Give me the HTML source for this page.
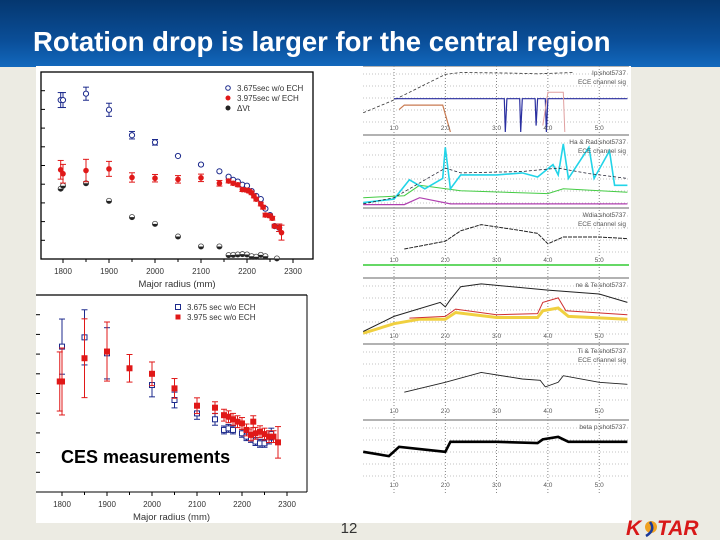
<!DOCTYPE html>
<html><head><meta charset="utf-8">
<style>
html,body{margin:0;padding:0;width:720px;height:540px;overflow:hidden;background:#ecebe3;font-family:"Liberation Sans",sans-serif}
#hdr{position:absolute;left:0;top:0;width:720px;height:67px;background:linear-gradient(#05376f,#0a4e98 60%,#1268bd)}
#title{position:absolute;left:33px;top:26px;color:#fff;font-weight:bold;font-size:27.5px;letter-spacing:0px;white-space:nowrap}
svg{position:absolute;left:0;top:0}
</style></head><body>
<div id="hdr"></div>
<div id="title">Rotation drop is larger for the central region</div>
<svg id="s" width="720" height="540"></svg>
<script>
// ---- Top-left chart data (toroidal rotation, arb. units) ----
const topBlueR=[1795,1800,1850,1900,1950,2000,2050,2100,2140,2160,2170,2180,2190,2200,2210,2220,2230,2240,2250,2260,2270];
const topBlueV=[85,85,88.4,79.8,66.2,62.4,55.1,50.5,46.9,44,42.3,41.4,39.7,39.2,36.3,33.7,32,26.9,23.5,17.6,16.7];
const topBlueErr=[4,4,3.5,3.5,2,1.5,0,0,0,0,0,0,0,0,0,0,0,0,0,0,2];
const topRedR=[1795,1800,1850,1900,1950,2000,2050,2100,2140,2160,2170,2180,2190,2200,2205,2210,2215,2220,2230,2235,2240,2250,2255,2260,2270,2275];
const topRedV=[47.7,45.6,47.3,48.2,43.6,43.2,42.6,43.4,40.5,41.7,40.5,39.7,37.1,36.8,36.3,35.4,33.7,32,29.4,27.7,23.5,23.1,21.8,17.6,16.7,14.1];
const topRedErr=[5,5,6,4,2.5,2,2,2,1.5,1,1,1,1,1,1,1,1,1,1,1,1,1,1,1,2,4];
const topBlackR=[1795,1800,1850,1900,1950,2000,2050,2100,2140,2160,2170,2180,2190,2200,2210,2220,2230,2240,2265];
const topBlackV=[37.6,39.2,40.5,31.1,22.4,18.8,12,6.7,6.7,2.1,2.2,2.4,2.6,2.4,1.5,1.2,2.2,1.5,0.3];
// ---- Bottom-left chart data ----
const botBlueR=[1800,1850,1900,2000,2050,2100,2140,2160,2170,2180,2200,2210,2220,2230,2240,2250,2260,2265];
const botBlueV=[73.8,78.5,70.4,54.3,46.7,39.9,36.9,31.5,32.3,31.5,29.8,28.1,27.2,25.6,24.7,24.7,26.4,29.4];
const botBlueErr=[14,14,13,6,4,3,3,2,2,2,2,2,2,2,2,2,2,3];
const botRedR=[1795,1800,1850,1900,1950,2000,2050,2100,2140,2160,2170,2180,2190,2200,2210,2220,2225,2230,2240,2250,2260,2270,2280];
const botRedV=[56.1,56.1,67.9,71.3,62.8,60,52.6,43.8,42.8,39,38.2,36.9,35.7,34.8,31.5,29,35.7,29.8,30.6,29.4,28.1,28.1,25.2];
const botRedErr=[15,17,20,15,7,6,5,4,3,3,3,3,3,3,3,3,3,3,3,3,3,3,8];
const xTicks=[1800,1900,2000,2100,2200,2300];
// ---- Right panel time traces [t, level within panel 0..1 from bottom] ----
const p1Black=[[0.4,0.3],[1.0,0.5],[2.0,0.9],[2.3,0.93],[3.3,0.92],[3.8,0.91],[4.5,0.93]];
const p1Blue=[[1.0,0.52],[3.15,0.52],[3.17,0.0],[3.2,0.52],[3.45,0.52],[3.47,0.0],[3.5,0.52],[3.75,0.52],[3.77,0.1],[3.8,0.52],[3.95,0.52],[3.97,0.0],[4.0,0.52],[5.55,0.52]];
const p1Orange=[[1.1,0.35],[1.2,0.42],[1.95,0.42],[2.1,0.0]];
const p1Pink=[[3.9,0.1],[4.0,0.62],[4.3,0.62],[4.33,0.0]];
const p2Cyan=[[0.4,0.05],[1.0,0.1],[1.3,0.38],[1.6,0.25],[1.95,0.4],[2.0,0.85],[2.1,0.25],[2.3,0.45],[3.0,0.45],[3.5,0.48],[3.8,0.42],[4.1,0.6],[4.2,0.45],[4.3,0.9],[4.4,0.4],[4.8,0.85],[4.9,0.4],[5.2,0.8],[5.3,0.3],[5.55,0.3]];
const p2Navy=[[0.4,0.03],[1.0,0.12],[2.0,0.55],[2.3,0.48],[3.5,0.5],[4.2,0.55],[4.8,0.47],[5.55,0.4]];
const p2Green=[[0.4,0.12],[1.2,0.15],[1.5,0.3],[2.3,0.22],[4.0,0.18],[4.3,0.25],[5.55,0.2]];
const p2Mag=[[0.4,0.02],[1.2,0.02],[1.5,0.12],[2.1,0.03],[5.55,0.03]];
const p3Black=[[1.2,0.25],[2.0,0.4],[2.3,0.6],[2.7,0.72],[3.5,0.6],[3.8,0.55],[4.0,0.35],[4.3,0.48],[5.0,0.48],[5.55,0.45]];
const p4Black=[[0.4,0.08],[1.0,0.35],[1.9,0.6],[2.0,0.52],[2.1,0.65],[2.3,0.88],[2.7,0.93],[4.0,0.82],[5.0,0.75],[5.55,0.6]];
const p4Yel=[[0.4,0.05],[1.0,0.22],[1.5,0.3],[2.0,0.3],[2.2,0.42],[3.0,0.33],[3.8,0.33],[3.9,0.45],[4.2,0.5],[4.4,0.35],[5.55,0.3]];
const p4Red=[[1.3,0.32],[2.0,0.35],[2.2,0.48],[3.0,0.38],[3.8,0.4],[3.9,0.6],[4.2,0.68],[4.35,0.45],[5.55,0.38]];
const p5Black=[[1.2,0.3],[2.0,0.45],[2.7,0.6],[3.5,0.5],[3.85,0.48],[3.95,0.38],[4.2,0.45],[4.3,0.55],[5.0,0.45],[5.55,0.42]];
const p6Black=[[0.4,0.52],[0.9,0.45],[1.1,0.6],[2.0,0.52],[2.1,0.68],[3.0,0.68],[3.8,0.66],[3.9,0.72],[4.2,0.76],[4.4,0.68],[5.55,0.68]];
const tLabels=["1.0","2.0","3.0","4.0","5.0"];

const S=document.getElementById('s');
const NS='http://www.w3.org/2000/svg';
function mk(tag,at,par){const e=document.createElementNS(NS,tag);for(const k in at)e.setAttribute(k,at[k]);(par||S).appendChild(e);return e;}
function txt(x,y,s,at,par){const e=mk('text',Object.assign({x:x,y:y},at),par);e.textContent=s;return e;}

const wp=mk('rect',{x:36,y:66,width:595,height:457,fill:'#fff'});



function chart(name,box,ymax,series,legend){
  const g=mk('g',{});
  
  
  const xs=r=>box.x0+(r-1800)*box.k;
  const ys=v=>box.yb-v/ymax*(box.yb-box.yt);
  if(box.frame) mk('rect',{x:box.fx,y:box.yt,width:box.fw,height:box.yb-box.yt,fill:'none',stroke:'#000','stroke-width':1.3},g);
  else { mk('line',{x1:box.fx,y1:box.yt,x2:box.fx+box.fw,y2:box.yt,stroke:'#000','stroke-width':1.3},g);
         mk('line',{x1:box.fx+box.fw,y1:box.yt,x2:box.fx+box.fw,y2:box.yb,stroke:'#000','stroke-width':1},g);
         mk('line',{x1:box.fx,y1:box.yb,x2:box.fx+box.fw,y2:box.yb,stroke:'#000','stroke-width':1},g);}
  for(let i=0;i<xTicks.length;i++){const x=xs(xTicks[i]);
    mk('line',{x1:x,y1:box.yb,x2:x,y2:box.yb+4,stroke:'#000'},g);
    const tl=txt(x,box.yb+15,String(xTicks[i]),{'font-size':8,'text-anchor':'middle',fill:'#333'},g);
    
    }
  for(let i=0;i<5;i++){const x=xs(1850+i*100);mk('line',{x1:x,y1:box.yb,x2:x,y2:box.yb+3,stroke:'#000'},g);}
  for(let v=10;v<ymax;v+=10){mk('line',{x1:box.fx,y1:ys(v),x2:box.fx+4,y2:ys(v),stroke:'#000'},g);}
  const xt=txt((box.fx+box.fx+box.fw)/2,box.yb+28,'Major radius (mm)',{'font-size':9.5,'text-anchor':'middle',fill:'#333'},g);
  
  
  series.forEach(s=>{
    const sg=mk('g',{},g);
    
    
    for(let i=0;i<s.R.length;i++){const x=xs(s.R[i]),y=ys(s.V[i]);
      if(s.E&&s.E[i]>0){const e=s.E[i];
        mk('line',{x1:x,y1:ys(s.V[i]-e),x2:x,y2:ys(s.V[i]+e),stroke:s.c,'stroke-width':1},sg);
        mk('line',{x1:x-3,y1:ys(s.V[i]-e),x2:x+3,y2:ys(s.V[i]-e),stroke:s.c},sg);
        mk('line',{x1:x-3,y1:ys(s.V[i]+e),x2:x+3,y2:ys(s.V[i]+e),stroke:s.c},sg);}
      if(s.m==='oc') mk('circle',{cx:x,cy:y,r:2.6,fill:'#fff',stroke:s.c,'stroke-width':1},sg);
      else if(s.m==='fc') mk('circle',{cx:x,cy:y,r:2.8,fill:s.c},sg);
      else if(s.m==='os') mk('rect',{x:x-2.5,y:y-2.5,width:5,height:5,fill:'#fff',stroke:s.c,'stroke-width':1},sg);
      else if(s.m==='fs') mk('rect',{x:x-3,y:y-3,width:6,height:6,fill:s.c},sg);
      else if(s.m==='bc'){mk('circle',{cx:x,cy:y,r:2.6,fill:'#fff',stroke:'#444','stroke-width':0.8},sg);mk('path',{d:`M${x-2.6},${y} A2.6,2.6 0 0 0 ${x+2.6},${y} Z`,fill:'#222'},sg);}
    }
  });
  legend.forEach((l,i)=>{const lx=box.lx,ly=box.ly+i*10;
    const lg=mk('g',{},g);
    
    
    if(l.m==='oc') mk('circle',{cx:lx,cy:ly-3,r:2.3,fill:'#fff',stroke:l.c},lg);
    if(l.m==='fc') mk('circle',{cx:lx,cy:ly-3,r:2.5,fill:l.c},lg);
    if(l.m==='bc') mk('circle',{cx:lx,cy:ly-3,r:2.5,fill:'#222'},lg);
    if(l.m==='os') mk('rect',{x:lx-2.5,y:ly-5.5,width:5,height:5,fill:'#fff',stroke:l.c},lg);
    if(l.m==='fs') mk('rect',{x:lx-2.5,y:ly-5.5,width:5,height:5,fill:l.c},lg);
    txt(lx+9,ly,l.t,{'font-size':8,fill:'#333'},lg);});
  return g;
}
chart('rotation-chart-top',{x0:63,k:0.46,yt:72,yb:259,fx:41,fw:272,frame:true,lx:228,ly:91},100,[
 {name:'series-wo-ech',R:topBlueR,V:topBlueV,E:topBlueErr,c:'#1c2a8c',m:'oc'},
 {name:'series-delta-vt',R:topBlackR,V:topBlackV,c:'#222',m:'bc'},
 {name:'series-w-ech',R:topRedR,V:topRedV,E:topRedErr,c:'#e01818',m:'fc'}],
 [{m:'oc',c:'#1c2a8c',t:'3.675sec w/o ECH'},{m:'fc',c:'#e01818',t:'3.975sec w/ ECH'},{m:'bc',t:'ΔVt'}]);
chart('rotation-chart-bottom',{x0:62,k:0.45,yt:295,yb:492,fx:36,fw:271,frame:false,lx:178,ly:310},100,[
 {name:'series-3675',R:botBlueR,V:botBlueV,E:botBlueErr,c:'#1c2a8c',m:'os'},
 {name:'series-3975',R:botRedR,V:botRedV,E:botRedErr,c:'#e01818',m:'fs'}],
 [{m:'os',c:'#1c2a8c',t:'3.675 sec w/o ECH'},{m:'fs',c:'#e01818',t:'3.975 sec w/o ECH'}]);
const ces=txt(61,463,'CES measurements',{'font-size':18,'font-weight':'bold',fill:'#000'});



// ---- Right panel ----
const defs=mk('defs',{});
const cp=mk('clipPath',{id:'rc'},defs);
mk('rect',{x:363,y:66,width:266,height:432},cp);
const rp=mk('g',{'clip-path':'url(#rc)'});


const tx=t=>394+(t-1)*51.3;
const panels=[
 {top:68,bot:132,lab:130,name:'panel-ip',tr:[[p1Black,'#333',0.8,'3,2'],[p1Blue,'#2a2fa0',1.2],[p1Orange,'#c87a50',1.2],[p1Pink,'#e0a0a0',1]],legs:['Ip:shot5737','ECE channel sig']},
 {top:137,bot:206,lab:null,name:'panel-ha',tr:[[p2Green,'#4c4',1],[p2Mag,'#b040b0',1.2],[p2Cyan,'#22d4e8',1.6],[p2Navy,'#223',0.8,'3,2']],legs:['Ha & Rad:shot5737','ECE channel sig']},
 {top:210,bot:262,lab:262,name:'panel-wdia',tr:[[p3Black,'#222',1,'4,1']],legs:['Wdia:shot5737','ECE channel sig']},
 {top:280,bot:336,lab:338,name:'panel-ne',tr:[[p4Yel,'#f0d040',3],[p4Red,'#d03030',1],[p4Black,'#222',1]],legs:['ne & Te:shot5737']},
 {top:346,bot:412,lab:413,name:'panel-te',tr:[[p5Black,'#222',0.9]],legs:['Ti & Te:shot5737','ECE channel sig']},
 {top:422,bot:484,lab:487,name:'panel-beta',tr:[[p6Black,'#000',2.6]],legs:['beta p:shot5737']}];
[1,2,3,4,5].forEach(t=>mk('line',{x1:tx(t),y1:66,x2:tx(t),y2:495,stroke:'#666','stroke-width':0.8,'stroke-dasharray':'1,2'},rp));
panels.forEach(p=>{
  const g=mk('g',{},rp);
  
  
  for(let y=p.top+6;y<p.bot;y+=12) mk('line',{x1:363,y1:y,x2:628,y2:y,stroke:'#888','stroke-width':0.6,'stroke-dasharray':'1,2'},g);
  mk('line',{x1:363,y1:p.top-2,x2:630,y2:p.top-2,stroke:'#999','stroke-width':1.5},g);
  const ys=v=>p.bot-v*(p.bot-p.top);
  p.tr.forEach(tr=>{const pts=tr[0].map(q=>tx(q[0]).toFixed(1)+','+ys(q[1]).toFixed(1)).join(' ');
    const a={points:pts,fill:'none',stroke:tr[1],'stroke-width':tr[2]};if(tr[3])a['stroke-dasharray']=tr[3];
    const pl=mk('polyline',a,g);
    
    });
  p.legs.forEach((l,i)=>txt(626,p.top+7+i*9,l,{'font-size':6.5,'text-anchor':'end',fill:'#555'},g));
  if(p.lab) tLabels.forEach((l,i)=>txt(tx(i+1),p.lab,l,{'font-size':6.5,'text-anchor':'middle',fill:'#555'},g));
});
mk('line',{x1:363,y1:265,x2:630,y2:265,stroke:'#3c3',"stroke-width":1.5},rp);

const pg=txt(349,533,'12',{'font-size':15,'text-anchor':'middle',fill:'#333'});


const logo=mk('g',{});


txt(626,535,'K',{'font-size':21,'font-weight':'bold','font-style':'italic',fill:'#d81818'},logo);
mk('circle',{cx:651,cy:527,r:6,fill:'#f0a020'},logo);
mk('path',{d:'M646,536 Q656,530 650,522',fill:'none',stroke:'#1a3a9a','stroke-width':2.5},logo);
txt(657,535,'TAR',{'font-size':21,'font-weight':'bold','font-style':'italic',fill:'#d81818'},logo);
</script>
</body></html>
